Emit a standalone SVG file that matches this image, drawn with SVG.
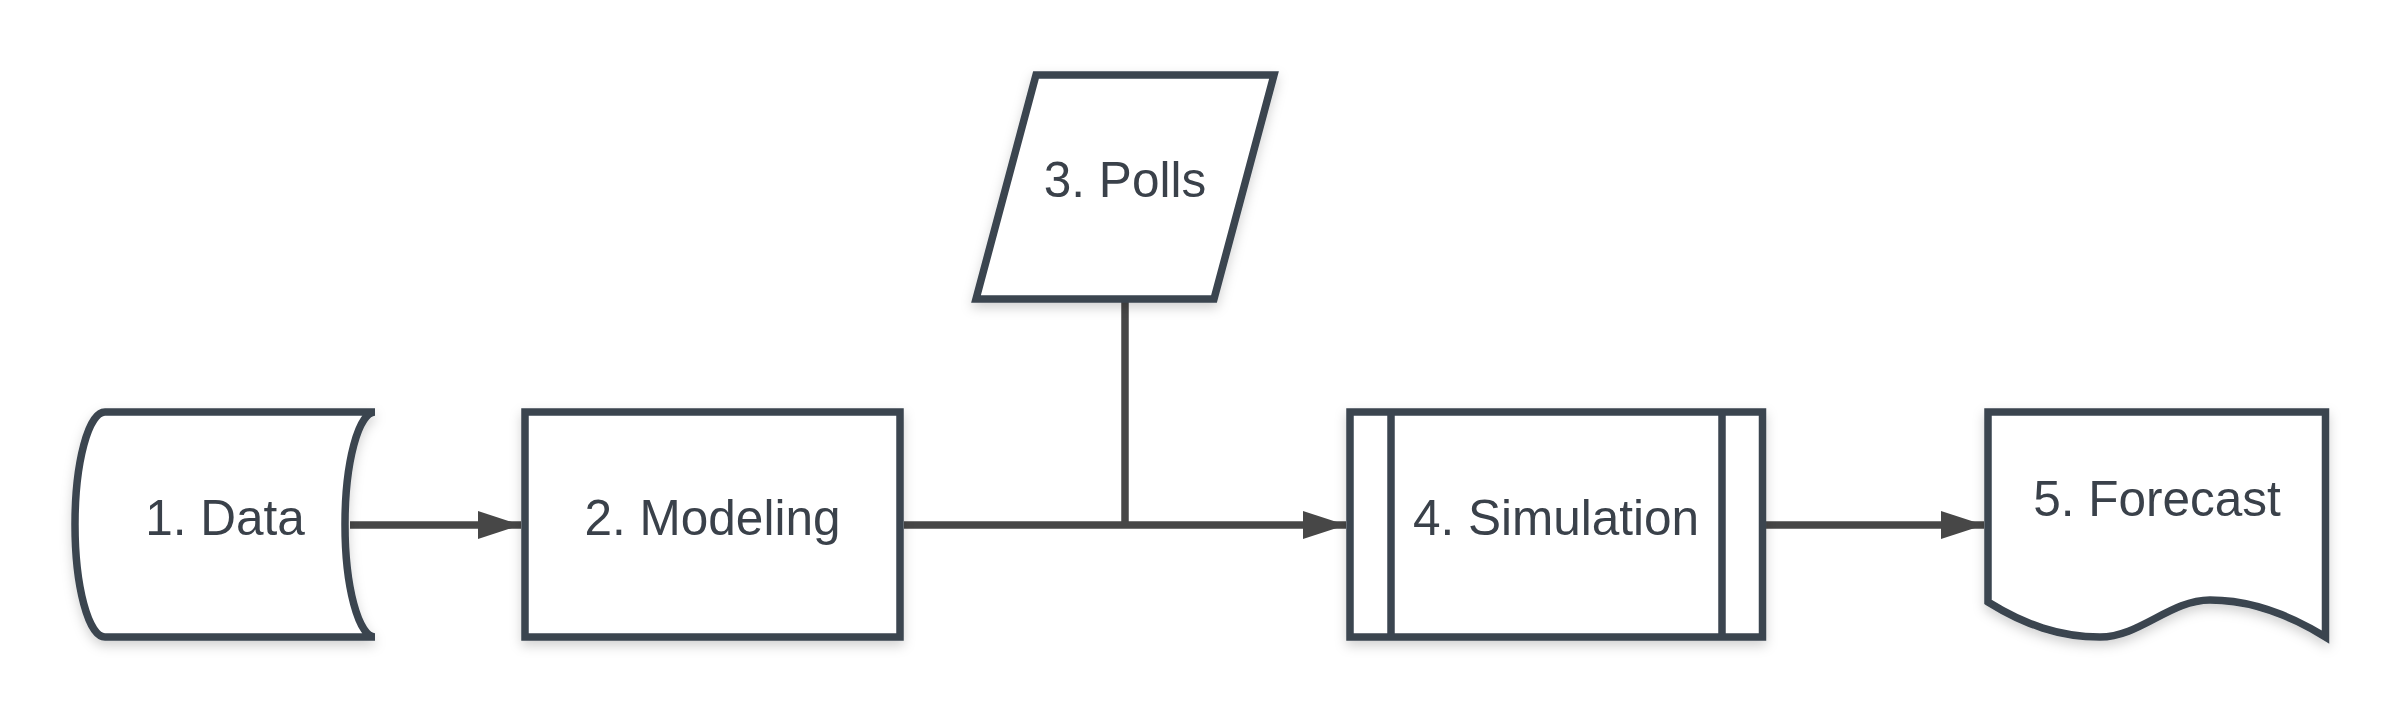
<svg xmlns="http://www.w3.org/2000/svg" width="2400" height="713" viewBox="0 0 2400 713">
<style>
.node{fill:#ffffff;stroke:#3b4550;stroke-width:7.5;stroke-linejoin:miter;filter:url(#sh)}
.line{fill:none;stroke:#3b4550;stroke-width:7.5}
.conn{fill:none;stroke:#474747;stroke-width:7.5}
.lbl{font-family:"Liberation Sans",Arial,sans-serif;font-size:49.5px;fill:#3a414a;text-anchor:middle}
</style>
<defs>
<filter id="sh" x="-20%" y="-20%" width="140%" height="150%">
<feDropShadow dx="0" dy="5" stdDeviation="6" flood-color="#000000" flood-opacity="0.18"/>
</filter>
<marker id="arr" markerUnits="userSpaceOnUse" markerWidth="44" markerHeight="30" refX="43" refY="15" orient="auto">
<path d="M0,1 L43,15 L0,29 Z" fill="#474747"/>
</marker>
</defs>
<rect width="2400" height="713" fill="#ffffff"/>
<g id="connectors">
<line class="conn" x1="350" y1="525" x2="521" y2="525" marker-end="url(#arr)"/>
<line class="conn" x1="904" y1="525" x2="1346" y2="525" marker-end="url(#arr)"/>
<line class="conn" x1="1125" y1="300" x2="1125" y2="525"/>
<line class="conn" x1="1766" y1="525" x2="1984" y2="525" marker-end="url(#arr)"/>
</g>
<g id="node-data">
<path class="node" d="M105,412 H375 A30,112.5 0 0 0 375,637 H105 A30,112.5 0 0 1 105,412 Z"/>
<text class="lbl" x="225" y="535">1. Data</text>
</g>
<g id="node-modeling">
<rect class="node" x="525" y="412" width="375" height="225"/>
<text class="lbl" x="712.5" y="535">2. Modeling</text>
</g>
<g id="node-polls">
<path class="node" d="M1036,75 H1274 L1214,299 H976 Z"/>
<text class="lbl" x="1125" y="197">3. Polls</text>
</g>
<g id="node-simulation">
<rect class="node" x="1350" y="412" width="412.5" height="225"/>
<line class="line" x1="1391" y1="412" x2="1391" y2="637"/>
<line class="line" x1="1722" y1="412" x2="1722" y2="637"/>
<text class="lbl" x="1556" y="535">4. Simulation</text>
</g>
<g id="node-forecast">
<path class="node" d="M1988,412 H2325.5 V637 C2290,615 2250,600 2210,600 C2170,600 2140,637 2100,637 C2060,637 2025,625 1988,602 Z"/>
<text class="lbl" x="2157" y="516">5. Forecast</text>
</g>
</svg>
